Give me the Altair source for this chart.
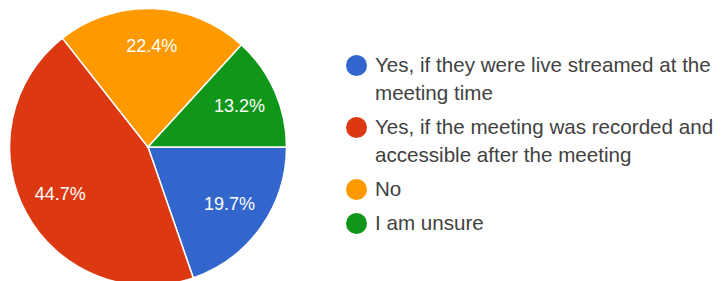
import json
import math
import altair as alt
import pandas as pd

categories = [
    "Yes, if they were live streamed at the meeting time",
    "Yes, if the meeting was recorded and accessible after the meeting",
    "No",
    "I am unsure",
]
legend_lines = [
    ["Yes, if they were live streamed at the", "meeting time"],
    ["Yes, if the meeting was recorded and", "accessible after the meeting"],
    ["No"],
    ["I am unsure"],
]
percentages = [19.7, 44.7, 22.4, 13.2]
slice_labels = ["19.7%", "44.7%", "22.4%", "13.2%"]
colors = ["#3366CC", "#DC3912", "#FF9900", "#109618"]

df = pd.DataFrame({
    "category": categories,
    "pct": percentages,
    "order": list(range(len(categories))),
    "label": slice_labels,
})

expr = "datum.label"
for cat, lines in reversed(list(zip(categories, legend_lines))):
    expr = f"datum.label === {json.dumps(cat)} ? {json.dumps(lines)} : ({expr})"

total = sum(percentages)
theta_scale = alt.Scale(domain=[0, total], range=[math.pi / 2, math.pi / 2 + 2 * math.pi])

cx, cy = 140, 139

base = alt.Chart(df).encode(
    theta=alt.Theta("pct:Q", stack=True, scale=theta_scale),
    order=alt.Order("order:Q"),
    x=alt.value(cx),
    y=alt.value(cy),
)

arcs = base.mark_arc(outerRadius=138.5, stroke="white", strokeWidth=1.5).encode(
    color=alt.Color(
        "category:N",
        scale=alt.Scale(domain=categories, range=colors),
        sort=categories,
        legend=alt.Legend(
            title=None,
            orient="none",
            legendX=338,
            legendY=47,
            symbolType="circle",
            symbolSize=441,
            symbolStrokeWidth=0,
            labelFontSize=20.6,
            labelFont="Arial",
            labelColor="#424242",
            labelOffset=8,
            rowPadding=12,
            labelLimit=500,
            labelExpr=expr,
            labelBaseline="top",
            padding=0,
        ),
    )
)

texts = base.mark_text(radius=100, fontSize=18, font="Arial", color="white").encode(
    text="label:N"
)

chart = (
    alt.layer(arcs, texts)
    .properties(width=711, height=273, autosize=alt.AutoSizeParams(type="none"), padding=0,
                background="white")
    .configure(style={"guide-label": {"dy": -10, "lineHeight": 28}})
    .configure_view(stroke=None)
)

chart.save("out.html", embed_options={"renderer": "svg", "actions": False})
